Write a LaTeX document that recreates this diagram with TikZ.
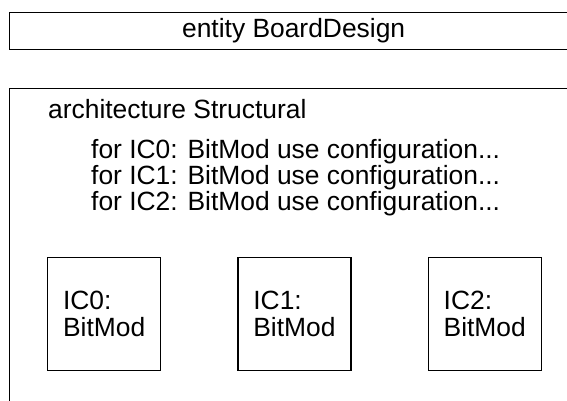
\documentclass[tikz,border=0pt]{standalone}
\usepackage{fontspec}
\setmainfont{Liberation Sans}
\usetikzlibrary{positioning}

\begin{document}
\begin{tikzpicture}[x=1pt,y=-1pt,
		frame/.style={draw,line width=1.3pt,rectangle,minimum width=568pt,anchor=north west,inner sep=0pt},
		icbox/.style={draw,line width=1.3pt,rectangle,minimum width=113pt,minimum height=113pt,align=left,font=\fontsize{26.4}{27}\selectfont},
		txt/.style={font=\fontsize{26.4}{26}\selectfont,inner sep=0pt,anchor=base west}]
		\useasboundingbox (0,0) rectangle (567,401);
		\clip (0,0) rectangle (567,401);
		\node[frame,minimum height = 37pt] at (9,12) (entity) {};
		\node[txt,anchor=center] at (entity.center) (ename) {entity BoardDesign};
		\node[frame,minimum height = 340pt] at (9,88) (arch) {};
		\node[txt] at (48,119) (aname) {architecture Structural};
		\foreach \i in {0,1,2}
			\node[txt] at (91,158+26*\i) (cfg\i) {for IC\i: BitMod use configuration...};
		\node[icbox,anchor=north west] at (47,257) (ic0) {IC0:\\BitMod};
		\node[icbox,right = 76pt of ic0] (ic1) {IC1:\\BitMod};
		\node[icbox,right = 76pt of ic1] (ic2) {IC2:\\BitMod};
	\end{tikzpicture}
\end{document}
